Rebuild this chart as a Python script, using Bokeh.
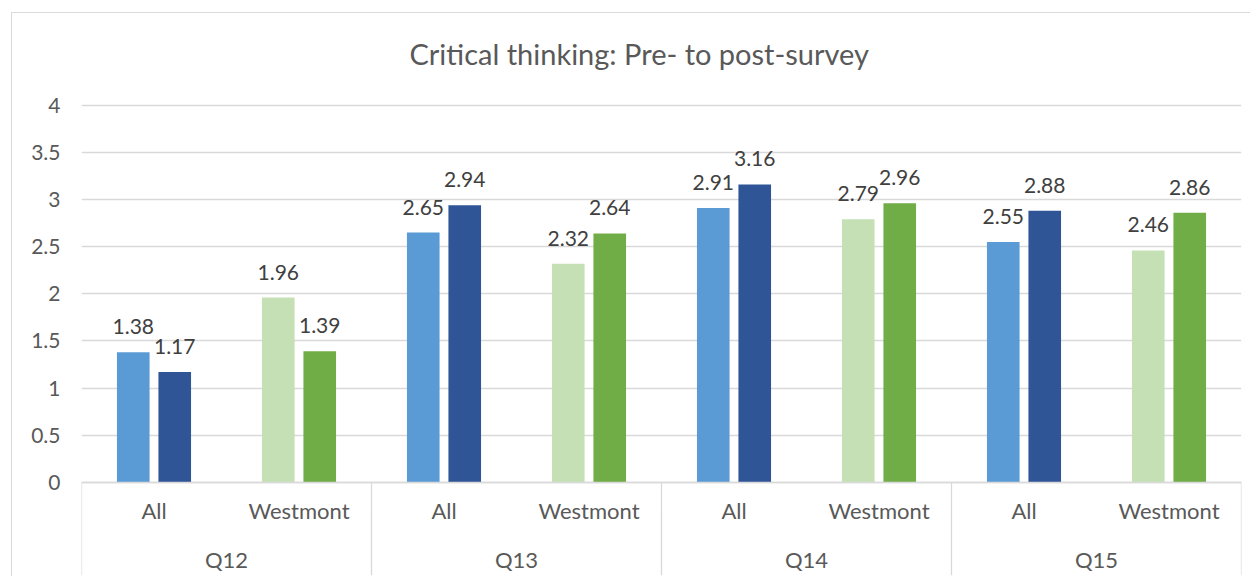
from bokeh.plotting import figure
from bokeh.models import (FactorRange, ColumnDataSource, Range1d, FixedTicker,
                          LabelSet, CustomJSTickFormatter, CategoricalAxis)
from bokeh.transform import dodge
from bokeh.core.properties import value
from bokeh.embed import file_html
from bokeh.resources import INLINE

title_text = "Critical thinking: Pre- to post-survey"
questions = ["Q12", "Q13", "Q14", "Q15"]
groups = ["All", "Westmont"]
pre_values = [1.38, 1.96, 2.65, 2.32, 2.91, 2.79, 2.55, 2.46]
post_values = [1.17, 1.39, 2.94, 2.64, 3.16, 2.96, 2.88, 2.86]
pre_colors = {"All": "#5B9BD5", "Westmont": "#C5E0B4"}
post_colors = {"All": "#2F5597", "Westmont": "#70AD47"}
y_ticks = [0, 0.5, 1, 1.5, 2, 2.5, 3, 3.5, 4]

factors = [(q, g) for q in questions for g in groups]
src = ColumnDataSource(dict(
    x=factors,
    pre=pre_values,
    post=post_values,
    pre_color=[pre_colors[g] for q, g in factors],
    post_color=[post_colors[g] for q, g in factors],
    pre_lbl=[f"{v:.2f}" for v in pre_values],
    post_lbl=[f"{v:.2f}" for v in post_values],
))

FONT = "Lato"
GREY_TXT = "#595959"
p = figure(width=1239, height=564,
           x_range=FactorRange(*factors, range_padding=0, factor_padding=0, group_padding=0),
           y_range=Range1d(-0.99, 4.2),
           output_backend="svg", toolbar_location=None,
           min_border_left=69, min_border_right=10, min_border_top=73, min_border_bottom=2)
p.styles = {"margin-left": "11px", "margin-top": "12px",
            "border-left": "1px solid #D9D9D9", "border-top": "1px solid #D9D9D9"}

p.title.text = title_text
p.title.align = "left"
p.title.offset = 328
p.title.standoff = 32
p.title.text_font = FONT
p.title.text_font_size = "29px"
p.title.text_font_style = "normal"
p.title.text_color = GREY_TXT

W = 0.225
OFF = 0.143
p.vbar(x=dodge("x", -OFF, range=p.x_range), top="pre", width=W, source=src,
       fill_color="pre_color", line_color=None)
p.vbar(x=dodge("x", OFF, range=p.x_range), top="post", width=W, source=src,
       fill_color="post_color", line_color=None)

for col, lbl, off in (("pre", "pre_lbl", -OFF), ("post", "post_lbl", OFF)):
    p.add_layout(LabelSet(x=dodge("x", off, range=p.x_range), y=col, text=lbl, source=src,
                          text_align="center", text_baseline="alphabetic", y_offset=18,
                          text_font=value(FONT), text_font_size="21px", text_color="#404040"))

# vertical separators of the two-level category axis (group boundaries, incl. both ends)
bounds = [i * len(groups) for i in range(len(questions) + 1)]
p.segment(x0=bounds, y0=[0] * len(bounds), x1=bounds, y1=[-0.99] * len(bounds),
          line_color="#D9D9D9", line_width=1.3)

p.outline_line_color = None
p.xgrid.visible = False
p.ygrid.grid_line_color = "#D9D9D9"
p.ygrid.grid_line_width = 1.3

p.yaxis.ticker = FixedTicker(ticks=y_ticks)
p.yaxis.formatter = CustomJSTickFormatter(code="return tick.toString();")
p.yaxis.axis_line_color = None
p.yaxis.major_tick_line_color = None
p.yaxis.minor_tick_line_color = None
p.yaxis.major_tick_out = 0
p.yaxis.major_label_standoff = 21
p.yaxis.major_label_text_font = FONT
p.yaxis.major_label_text_font_size = "21px"
p.yaxis.major_label_text_color = GREY_TXT

# inner level ("All" / "Westmont") on the main axis
xa = p.xaxis[0]
xa.fixed_location = 0
xa.axis_line_color = "#D9D9D9"
xa.axis_line_width = 1.3
xa.major_tick_line_color = None
xa.minor_tick_line_color = None
xa.major_label_standoff = 9
xa.major_label_text_font = FONT
xa.major_label_text_font_size = "22px"
xa.major_label_text_color = GREY_TXT
xa.group_text_color = None
xa.separator_line_color = None

# outer level ("Q12" ...) on a second axis sharing the same range, set lower
xg = CategoricalAxis(fixed_location=0)
xg.axis_line_color = None
xg.major_tick_line_color = None
xg.minor_tick_line_color = None
xg.major_label_standoff = 58
xg.major_label_text_color = None
xg.group_text_font = FONT
xg.group_text_font_size = "22px"
xg.group_text_color = GREY_TXT
xg.group_text_font_style = "normal"
xg.separator_line_color = None
p.add_layout(xg, "below")

open("out.html", "w").write(file_html(p, INLINE))
